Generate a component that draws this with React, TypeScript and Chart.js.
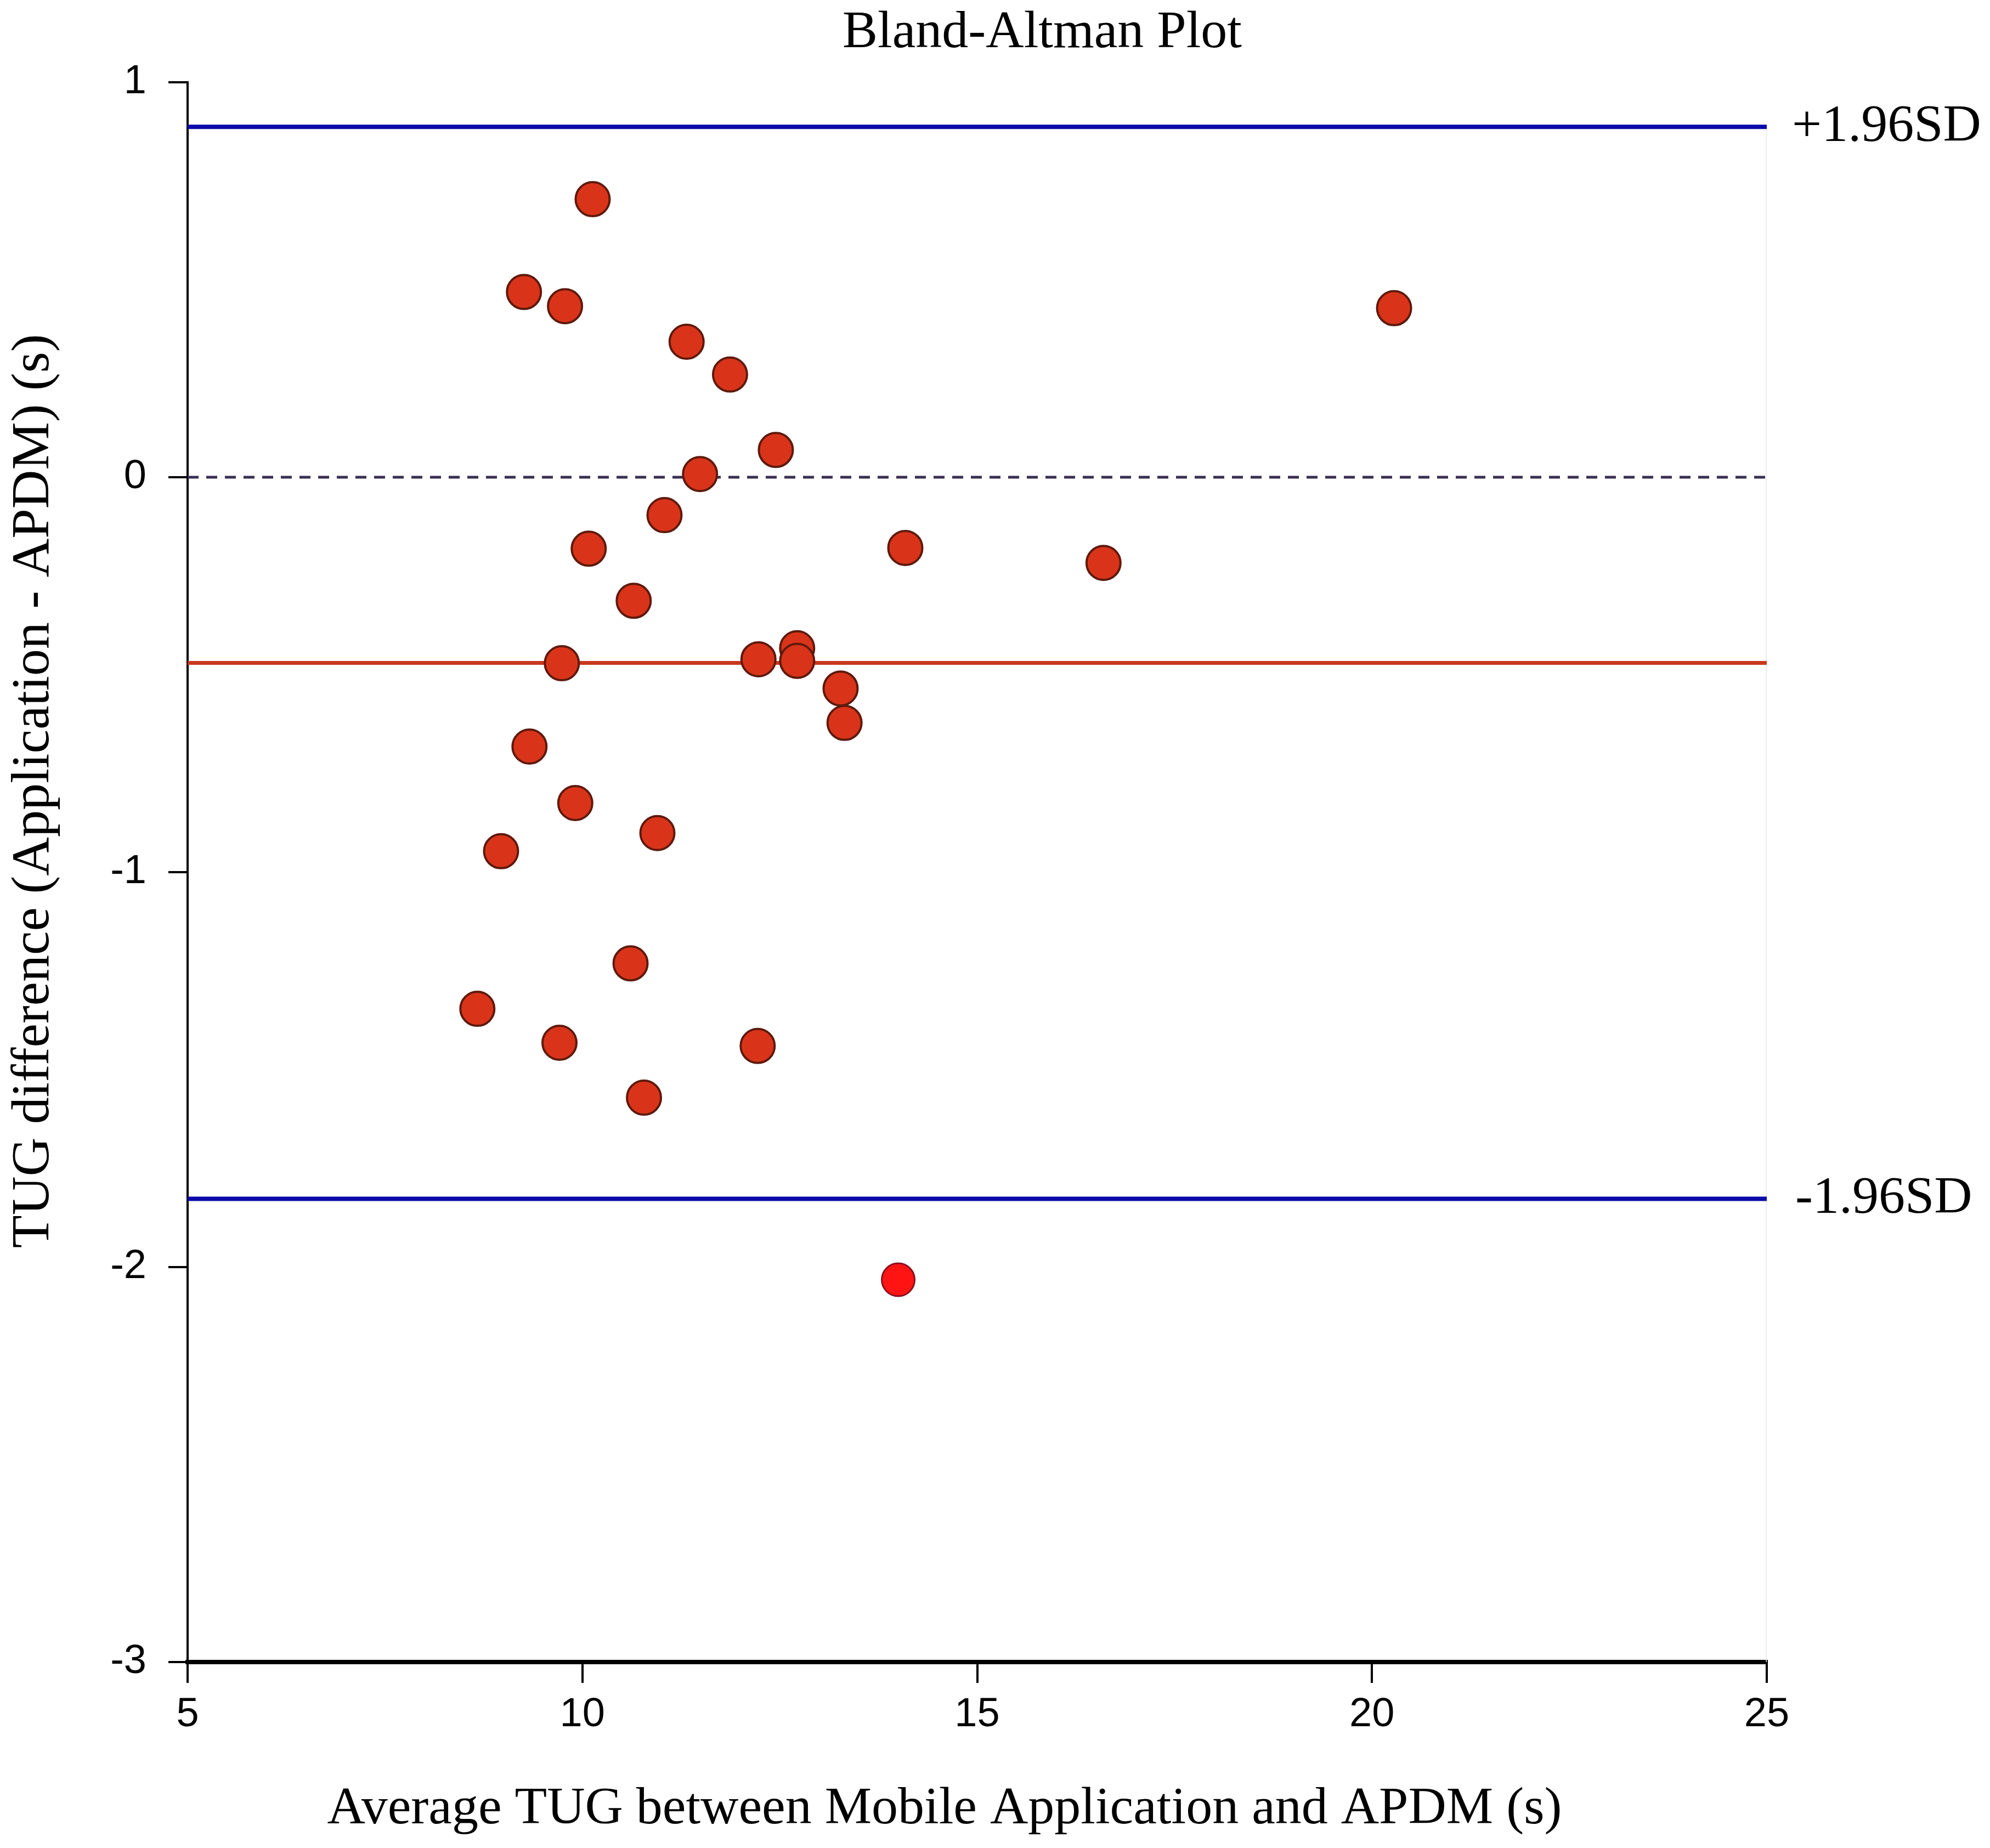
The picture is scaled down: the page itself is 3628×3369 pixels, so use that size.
import React, { useEffect, useRef } from "react";
import { Chart, registerables } from "chart.js";
import type { ChartConfiguration, Plugin } from "chart.js";

Chart.register(...registerables);

// Average of the two methods (x) and their difference (y), one entry per subject
const meanTug = [
  10.13, 9.26, 9.78, 11.32, 11.87, 12.45, 11.49, 11.04, 10.08, 14.09, 16.6, 20.28, 10.65, 9.74,
  12.23, 12.72, 12.72, 13.27, 13.32, 9.33, 9.91, 8.97, 10.95, 10.61, 8.67, 9.71, 12.22, 10.78,
];
const diffTug = [
  0.704, 0.469, 0.433, 0.343, 0.26, 0.069, 0.008, -0.096, -0.181, -0.179, -0.217, 0.428, -0.313,
  -0.471, -0.461, -0.433, -0.465, -0.535, -0.622, -0.682, -0.825, -0.947, -0.901, -1.231, -1.346,
  -1.432, -1.44, -1.571,
];

// the one point outside the limits of agreement
const outlierMean = [14.0];
const outlierDiff = [-2.032];

const meanDiff = -0.47;
const upperLoA = 0.887;
const lowerLoA = -1.827;

const xTicks = [5, 10, 15, 20, 25];
const yTicks = [-3, -2, -1, 0, 1];

const SERIF = "'Liberation Serif', 'Times New Roman', serif";
const SANS = "'Liberation Sans', Arial, sans-serif";

const hLine = (y: number) => [
  { x: xTicks[0], y },
  { x: xTicks[xTicks.length - 1], y },
];

const textPlugin: Plugin = {
  id: "blandAltmanText",
  afterDraw(chart) {
    const { ctx, chartArea } = chart;
    const ys = chart.scales.y;
    ctx.save();
    ctx.fillStyle = "#000";

    ctx.font = `96px ${SERIF}`;
    ctx.textAlign = "center";
    ctx.textBaseline = "alphabetic";
    ctx.fillText("Bland-Altman Plot", 1900, 86);

    ctx.fillText("Average TUG between Mobile Application and APDM (s)", 1722, 3324);

    ctx.save();
    ctx.translate(88, 1442);
    ctx.rotate(-Math.PI / 2);
    ctx.font = `98px ${SERIF}`;
    ctx.fillText("TUG difference (Application - APDM) (s)", 0, 0);
    ctx.restore();

    ctx.font = `96px ${SERIF}`;
    ctx.textAlign = "left";
    ctx.textBaseline = "middle";
    ctx.fillText("+1.96SD", chartArea.right + 46, ys.getPixelForValue(upperLoA));
    ctx.fillText("-1.96SD", chartArea.right + 52, ys.getPixelForValue(lowerLoA));
    ctx.restore();
  },
};

export default function App() {
  const canvasRef = useRef<HTMLCanvasElement | null>(null);

  useEffect(() => {
    const canvas = canvasRef.current;
    if (!canvas) return;

    const config: ChartConfiguration = {
      type: "scatter",
      data: {
        datasets: [
          {
            type: "scatter",
            label: "outlier",
            data: outlierMean.map((x, i) => ({ x, y: outlierDiff[i] })),
            backgroundColor: "#ff1414",
            borderColor: "#8a1020",
            borderWidth: 3,
            pointRadius: 30,
          },
          {
            type: "scatter",
            label: "subjects",
            data: meanTug.map((x, i) => ({ x, y: diffTug[i] })),
            backgroundColor: "#d9341a",
            borderColor: "#5e1a0c",
            borderWidth: 4,
            pointRadius: 31,
          },
          {
            type: "line",
            label: "zero",
            data: hLine(0),
            borderColor: "#3a3050",
            borderWidth: 5,
            borderDash: [20, 14],
            pointRadius: 0,
          },
          {
            type: "line",
            label: "mean",
            data: hLine(meanDiff),
            borderColor: "#c8381c",
            borderWidth: 7,
            pointRadius: 0,
          },
          {
            type: "line",
            label: "+1.96SD",
            data: hLine(upperLoA),
            borderColor: "#0a0aa8",
            borderWidth: 8,
            pointRadius: 0,
          },
          {
            type: "line",
            label: "-1.96SD",
            data: hLine(lowerLoA),
            borderColor: "#0a0aa8",
            borderWidth: 8,
            pointRadius: 0,
          },
          {
            type: "line",
            label: "frame",
            data: [
              { x: xTicks[xTicks.length - 1], y: yTicks[0] },
              { x: xTicks[xTicks.length - 1], y: upperLoA },
            ],
            borderColor: "#e8e8e8",
            borderWidth: 3,
            pointRadius: 0,
          },
        ],
      },
      options: {
        responsive: true,
        maintainAspectRatio: false,
        animation: false,
        devicePixelRatio: 1,
        layout: {
          padding: { top: 150, right: 407, left: 0, bottom: 0 },
        },
        plugins: {
          legend: { display: false },
          tooltip: { enabled: false },
        },
        scales: {
          x: {
            type: "linear",
            min: xTicks[0],
            max: xTicks[xTicks.length - 1],
            afterBuildTicks: (scale) => {
              scale.ticks = xTicks.map((value) => ({ value }));
            },
            afterFit: (scale) => {
              scale.height = 339;
            },
            border: { display: true, color: "#000", width: 8 },
            grid: {
              drawOnChartArea: false,
              drawTicks: true,
              tickLength: 38,
              color: "#000",
              lineWidth: 4,
            },
            ticks: {
              color: "#000",
              padding: 14,
              font: { family: SANS, size: 74 },
            },
          },
          y: {
            type: "linear",
            min: yTicks[0],
            max: yTicks[yTicks.length - 1],
            afterBuildTicks: (scale) => {
              scale.ticks = yTicks.map((value) => ({ value }));
            },
            afterFit: (scale) => {
              scale.width = 342;
            },
            border: { display: true, color: "#000", width: 4 },
            grid: {
              drawOnChartArea: false,
              drawTicks: true,
              tickLength: 35,
              color: "#000",
              lineWidth: 4,
            },
            ticks: {
              color: "#000",
              padding: 40,
              font: { family: SANS, size: 74 },
            },
          },
        },
      },
      plugins: [textPlugin],
    };

    const chart = new Chart(canvas, config);

    return () => {
      chart.destroy();
    };
  }, []);

  return (
    <div
      style={{
        position: "fixed",
        left: 0,
        top: 0,
        width: 3628,
        height: 3369,
        background: "#fff",
      }}
    >
      <canvas ref={canvasRef} />
    </div>
  );
}
